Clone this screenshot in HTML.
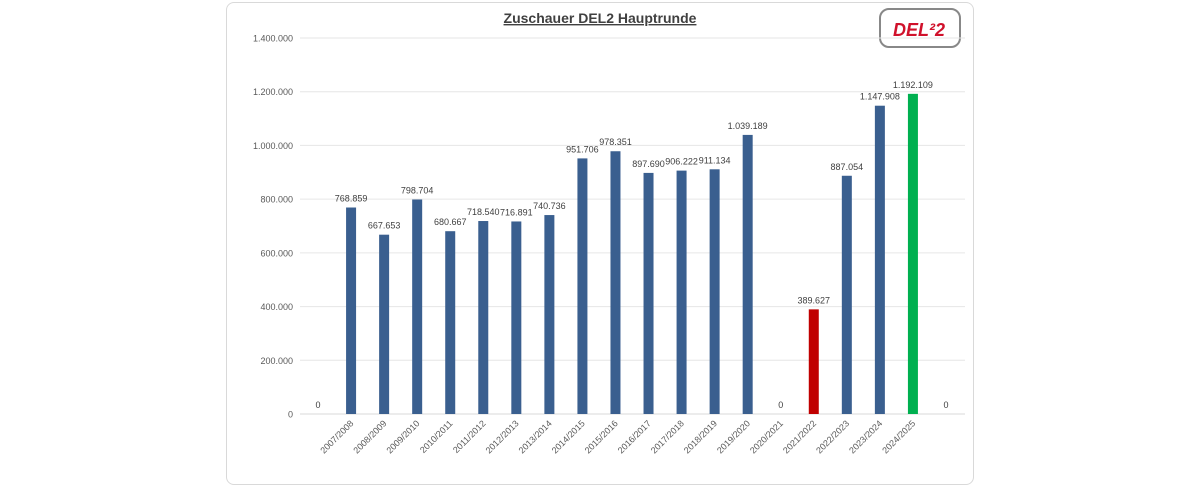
<!DOCTYPE html>
<html><head><meta charset="utf-8"><style>
body{margin:0;background:#fff;font-family:"Liberation Sans",Arial,sans-serif}
#frame{position:absolute;left:226px;top:2px;width:748px;height:483px;border:1px solid #d9d9d9;border-radius:8px;box-sizing:border-box}
</style></head><body>
<div id="frame"></div>
<svg id="chart" width="1200" height="487" style="position:absolute;left:0;top:0">
<text x="600" y="23" text-anchor="middle" font-size="14" font-weight="bold" fill="#404040" text-decoration="underline">Zuschauer DEL2 Hauptrunde</text>
<g>
<rect x="880" y="9" width="80" height="38" rx="9" fill="#fff" stroke="#888" stroke-width="2"/>
<text x="919" y="36" text-anchor="middle" font-size="18" font-weight="bold" font-style="italic" fill="#d0112b">DEL²2</text>
</g>
</svg>
<script>
const categories=["","2007/2008","2008/2009","2009/2010","2010/2011","2011/2012","2012/2013","2013/2014","2014/2015","2015/2016","2016/2017","2017/2018","2018/2019","2019/2020","2020/2021","2021/2022","2022/2023","2023/2024","2024/2025",""];
const values=[0,768859,667653,798704,680667,718540,716891,740736,951706,978351,897690,906222,911134,1039189,0,389627,887054,1147908,1192109,0];
const valueLabels=["0","768.859","667.653","798.704","680.667","718.540","716.891","740.736","951.706","978.351","897.690","906.222","911.134","1.039.189","0","389.627","887.054","1.147.908","1.192.109","0"];
const yTicks=[0,200000,400000,600000,800000,1000000,1200000,1400000];
const yTickLabels=["0","200.000","400.000","600.000","800.000","1.000.000","1.200.000","1.400.000"];
const colors={"2021/2022":"#c00000","2024/2025":"#00b050"};
const svg=document.getElementById('chart');const NS="http://www.w3.org/2000/svg";
const L=301.5,R=962.5,Y0=414,Y1=38,YMAX=1400000;
const y=v=>Y0-(v/YMAX)*(Y0-Y1);
const step=(R-L)/categories.length;
const x=i=>L+step*(i+0.5);
function mk(t,a){const e=document.createElementNS(NS,t);for(const k in a)e.setAttribute(k,a[k]);svg.appendChild(e);return e;}
yTicks.forEach((t,i)=>{
 const g=mk('line',{x1:300,x2:965,y1:y(t),y2:y(t),stroke:i==0?'#d9d9d9':'#e6e6e6','stroke-width':1});
 
 
 const tx=mk('text',{x:293,y:y(t)+3.5,'text-anchor':'end','font-size':9,fill:'#595959'});
 tx.textContent=yTickLabels[i];
 
 
});
categories.forEach((c,i)=>{
 const v=values[i];const cx=x(i);
 if(v>0){
  const b=mk('rect',{x:cx-5,y:y(v),width:10,height:Y0-y(v),fill:colors[c]||'#3a5f8f'});
  
  
 }
 const lb=mk('text',{x:cx,y:y(v)-6,'text-anchor':'middle','font-size':9,fill:'#404040'});
 lb.textContent=valueLabels[i];
 
 
 if(c){
  const t=mk('text',{x:cx+3,y:Y0+10,'text-anchor':'end','font-size':9,fill:'#595959',transform:`rotate(-45 ${cx+3} ${Y0+10})`});
  t.textContent=c;
  
  
 }
});
</script>
</body></html>
